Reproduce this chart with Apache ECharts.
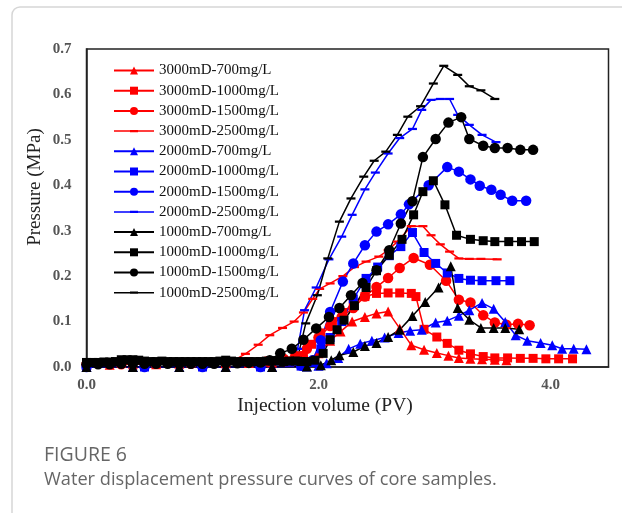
<!DOCTYPE html>
<html><head><meta charset="utf-8">
<script src="https://cdn.jsdelivr.net/npm/echarts@6/dist/echarts.min.js"></script>
<style>html,body{margin:0;padding:0;background:#fff}#c{width:622px;height:513px}</style>
</head><body><div id="c"></div>
<script>
const seriesNames = ['3000mD-700mg/L','3000mD-1000mg/L','3000mD-1500mg/L','3000mD-2500mg/L',
  '2000mD-700mg/L','2000mD-1000mg/L','2000mD-1500mg/L','2000mD-2500mg/L',
  '1000mD-700mg/L','1000mD-1000mg/L','1000mD-1500mg/L','1000mD-2500mg/L'];
const xTicks = [0, 2, 4];
const yTicks = [0, 0.1, 0.2, 0.3, 0.4, 0.5, 0.6, 0.7];

const r700 = [[0,0.005],[0.2,0.005],[0.4,0.006],[0.6,0.006],[0.8,0.007],[1.0,0.007],[1.2,0.008],[1.4,0.009],[1.6,0.01],[1.75,0.012],[1.9,0.016],[2.0,0.03],[2.1,0.058],[2.19,0.078],[2.29,0.1],[2.4,0.11],[2.5,0.118],[2.6,0.122],[2.7,0.085],[2.8,0.048],[2.91,0.038],[3.02,0.031],[3.12,0.025],[3.21,0.02],[3.31,0.018],[3.41,0.017],[3.52,0.016],[3.62,0.015]];
const r1000 = [[0,0.008],[0.3,0.008],[0.6,0.008],[0.9,0.009],[1.2,0.009],[1.5,0.01],[1.7,0.012],[1.8,0.015],[1.87,0.025],[1.94,0.05],[2.02,0.075],[2.12,0.1],[2.21,0.12],[2.3,0.14],[2.4,0.155],[2.5,0.162],[2.6,0.163],[2.7,0.163],[2.8,0.162],[2.84,0.155],[2.91,0.083],[3.02,0.066],[3.11,0.052],[3.21,0.037],[3.31,0.029],[3.42,0.023],[3.52,0.02],[3.63,0.02],[3.74,0.019],[3.85,0.019],[3.96,0.018],[4.07,0.018],[4.19,0.018]];
const r1500 = [[0,0.006],[0.3,0.006],[0.6,0.007],[0.9,0.007],[1.2,0.008],[1.4,0.01],[1.55,0.012],[1.7,0.018],[1.8,0.025],[1.9,0.04],[2.0,0.065],[2.1,0.09],[2.2,0.11],[2.3,0.13],[2.4,0.155],[2.5,0.176],[2.6,0.196],[2.7,0.218],[2.82,0.24],[2.96,0.225],[3.1,0.19],[3.21,0.148],[3.31,0.142],[3.42,0.114],[3.52,0.098],[3.62,0.093],[3.72,0.095],[3.82,0.092]];
const r2500 = [[0,0.007],[0.4,0.007],[0.8,0.008],[1.1,0.009],[1.25,0.012],[1.37,0.029],[1.48,0.049],[1.58,0.07],[1.69,0.086],[1.79,0.1],[1.87,0.12],[1.95,0.15],[2.01,0.172],[2.1,0.184],[2.21,0.2],[2.31,0.22],[2.41,0.232],[2.52,0.243],[2.6,0.257],[2.68,0.276],[2.8,0.31],[2.9,0.31],[2.97,0.29],[3.05,0.27],[3.13,0.254],[3.21,0.239],[3.3,0.238],[3.4,0.238],[3.54,0.237]];

const b700 = [[0,0],[0.4,0],[0.8,0],[1.2,0],[1.6,0],[1.9,0.001],[2.0,0.003],[2.07,0.008],[2.17,0.02],[2.26,0.04],[2.36,0.051],[2.46,0.058],[2.57,0.065],[2.69,0.075],[2.79,0.08],[2.89,0.082],[3.01,0.098],[3.11,0.102],[3.21,0.113],[3.3,0.125],[3.41,0.141],[3.51,0.128],[3.61,0.099],[3.7,0.07],[3.8,0.058],[3.915,0.053],[4.015,0.048],[4.1,0.04],[4.2,0.04],[4.31,0.039]];
const b1000 = [[0,0],[0.5,0],[1.0,0],[1.5,0],[1.85,0.002],[1.95,0.01],[2.02,0.04],[2.1,0.065],[2.2,0.1],[2.3,0.15],[2.41,0.195],[2.51,0.22],[2.61,0.245],[2.71,0.265],[2.81,0.296],[2.91,0.252],[3.01,0.228],[3.11,0.207],[3.21,0.195],[3.31,0.191],[3.41,0.19],[3.53,0.19],[3.65,0.19]];
const b1500 = [[0,0],[0.5,0],[1.0,0],[1.5,0],[1.85,0.003],[1.95,0.015],[2.02,0.059],[2.1,0.121],[2.21,0.188],[2.3,0.228],[2.4,0.268],[2.5,0.298],[2.6,0.314],[2.71,0.336],[2.78,0.358],[2.95,0.4],[3.11,0.44],[3.21,0.43],[3.31,0.413],[3.39,0.399],[3.49,0.39],[3.57,0.379],[3.67,0.366],[3.79,0.366]];
const b2500 = [[0,0],[0.5,0],[1.0,0],[1.5,0],[1.75,0.003],[1.82,0.04],[1.88,0.125],[1.98,0.175],[2.09,0.237],[2.2,0.287],[2.29,0.335],[2.4,0.391],[2.49,0.428],[2.6,0.47],[2.7,0.504],[2.81,0.524],[2.89,0.566],[2.97,0.588],[3.05,0.59],[3.13,0.59],[3.2,0.555],[3.3,0.533],[3.41,0.511],[3.53,0.495]];

const k700 = [[0,0],[0.4,0],[0.8,0],[1.2,0],[1.6,0],[1.9,0.001],[2.02,0.004],[2.11,0.015],[2.18,0.026],[2.3,0.033],[2.4,0.046],[2.5,0.053],[2.6,0.066],[2.7,0.082],[2.81,0.112],[2.92,0.143],[3.035,0.175],[3.14,0.222],[3.2,0.13],[3.3,0.104],[3.4,0.086],[3.51,0.086],[3.61,0.086],[3.73,0.083]];
const k1000 = [[0,0.01],[0.05,0.01],[0.1,0.01],[0.15,0.011],[0.2,0.011],[0.25,0.012],[0.3,0.016],[0.35,0.016],[0.4,0.016],[0.45,0.015],[0.5,0.013],[0.55,0.012],[0.6,0.012],[0.65,0.013],[0.7,0.012],[0.75,0.012],[0.8,0.012],[0.85,0.012],[0.9,0.012],[0.95,0.012],[1.0,0.012],[1.05,0.012],[1.1,0.012],[1.15,0.013],[1.2,0.015],[1.25,0.013],[1.3,0.012],[1.35,0.012],[1.4,0.012],[1.45,0.012],[1.5,0.012],[1.55,0.013],[1.6,0.014],[1.65,0.013],[1.7,0.012],[1.75,0.013],[1.8,0.013],[1.85,0.012],[1.9,0.012],[1.97,0.015],[2.04,0.03],[2.1,0.06],[2.16,0.082],[2.22,0.103],[2.31,0.135],[2.41,0.175],[2.5,0.212],[2.61,0.246],[2.72,0.281],[2.82,0.335],[2.9,0.386],[2.99,0.41],[3.09,0.357],[3.19,0.29],[3.31,0.281],[3.42,0.278],[3.52,0.276],[3.64,0.276],[3.75,0.276],[3.86,0.276]];
const k1500 = [[0,0.006],[0.1,0.006],[0.2,0.006],[0.3,0.007],[0.4,0.007],[0.5,0.007],[0.6,0.007],[0.7,0.007],[0.8,0.007],[0.9,0.007],[1.0,0.007],[1.1,0.007],[1.2,0.008],[1.3,0.008],[1.4,0.009],[1.5,0.01],[1.58,0.015],[1.67,0.03],[1.77,0.04],[1.87,0.06],[1.98,0.085],[2.09,0.11],[2.18,0.13],[2.28,0.158],[2.38,0.185],[2.5,0.213],[2.61,0.257],[2.71,0.316],[2.81,0.365],[2.9,0.462],[3.01,0.502],[3.12,0.538],[3.23,0.55],[3.3,0.502],[3.42,0.487],[3.52,0.482],[3.63,0.482],[3.74,0.478],[3.85,0.478]];
const k2500 = [[0,0.008],[0.1,0.008],[0.2,0.008],[0.3,0.009],[0.4,0.009],[0.5,0.008],[0.6,0.008],[0.7,0.008],[0.8,0.008],[0.9,0.008],[1.0,0.009],[1.1,0.009],[1.2,0.009],[1.3,0.009],[1.4,0.01],[1.5,0.01],[1.6,0.011],[1.7,0.012],[1.82,0.02],[1.89,0.096],[1.99,0.158],[2.08,0.239],[2.18,0.32],[2.28,0.371],[2.39,0.419],[2.48,0.454],[2.58,0.474],[2.68,0.511],[2.77,0.551],[2.88,0.574],[2.99,0.624],[3.08,0.663],[3.2,0.643],[3.3,0.618],[3.4,0.609],[3.52,0.59]];

const seriesData = [r700, r1000, r1500, r2500, b700, b1000, b1500, b2500, k700, k1000, k1500, k2500];
const colors = ['#ff0000','#ff0000','#ff0000','#ff0000','#0000ff','#0000ff','#0000ff','#0000ff','#000000','#000000','#000000','#000000'];
const DASH = 'path://M0,0H8V2H0Z';
const DASH_LEGEND = 'path://M0,0M40,10M0,4.25H40V5.75H0ZM16,3.9H24V6.1H16Z';
const symbols = ['triangle','rect','circle',DASH,'triangle','rect','circle',DASH,'triangle','rect','circle',DASH];
const sizes = [10,9,10.5,9,10,9,10.5,9,10,9,10.5,9];

const chart = echarts.init(document.getElementById('c'), null, {renderer:'canvas'});
const serif = '"Liberation Serif","Times New Roman",serif';
chart.setOption({
  animation: false,
  backgroundColor: '#fff',
  grid: {left: 86.5, right: 13.5, top: 49, bottom: 146, show: true, borderColor: '#222', borderWidth: 1.5, backgroundColor: 'transparent'},
  xAxis: {type: 'value', min: 0, max: 4.5, interval: 2,
    axisLine: {show: true, onZero: false, lineStyle: {color: '#222', width: 1.5}},
    axisTick: {show: false}, splitLine: {show: false},
    axisLabel: {margin: 11, color: '#555', fontFamily: serif, fontSize: 15, fontWeight: 'bold', showMaxLabel: false,
      formatter: v => xTicks.indexOf(v) >= 0 ? v.toFixed(1) : ''}},
  yAxis: {type: 'value', min: 0, max: 0.7, interval: 0.1,
    axisLine: {show: true, lineStyle: {color: '#222', width: 1.5}},
    axisTick: {show: false}, splitLine: {show: false},
    axisLabel: {margin: 15, color: '#555', fontFamily: serif, fontSize: 15, fontWeight: 'bold',
      formatter: v => v.toFixed(1)}},
  legend: {orient: 'vertical', left: 113, top: 63, padding: 0, itemWidth: 40, itemHeight: 10, itemGap: 5.2,
    data: seriesNames.map((n, i) => symbols[i] === DASH ? {name: n, icon: DASH_LEGEND} : n),
    textStyle: {fontFamily: serif, fontSize: 15, color: '#111', lineHeight: 15, padding: [0,0,0,0]}},
  series: seriesNames.map((n, i) => ({
    name: n, type: 'line', data: seriesData[i],
    symbol: symbols[i], symbolSize: sizes[i], symbolKeepAspect: true,
    showAllSymbol: true,
    lineStyle: {color: colors[i], width: 1.5},
    itemStyle: {color: colors[i], borderWidth: 0},
    emphasis: {disabled: true}
  })),
  graphic: [
    {type: 'rect', shape: {x: 12, y: 7, width: 640, height: 560, r: 8}, style: {fill: 'none', stroke: '#d6d6d6', lineWidth: 1.5}, silent: true},
    {type: 'text', x: 35, y: 187, rotation: Math.PI / 2, style: {text: 'Pressure (MPa)', font: '19px ' + serif, fill: '#222', textAlign: 'center', textVerticalAlign: 'middle'}},
    {type: 'text', x: 325, y: 406, style: {text: 'Injection volume (PV)', font: '19.5px ' + serif, fill: '#222', textAlign: 'center', textVerticalAlign: 'middle'}},
    {type: 'text', x: 44, y: 455, style: {text: 'FIGURE 6', font: '500 19.5px "Open Sans","Noto Sans",sans-serif', fill: '#666', textAlign: 'left', textVerticalAlign: 'middle'}},
    {type: 'text', x: 44, y: 480, style: {text: 'Water displacement pressure curves of core samples.', font: '18.2px "Open Sans","Noto Sans",sans-serif', fill: '#666', textAlign: 'left', textVerticalAlign: 'middle'}}
  ]
});
</script></body></html>
